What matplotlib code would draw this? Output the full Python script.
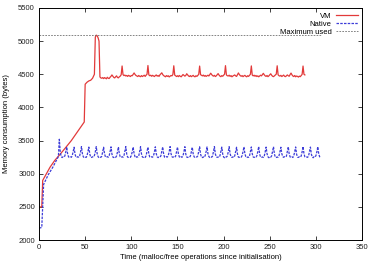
import numpy as np
from matplotlib import pyplot as plt

plt.rcParams['font.family'] = ['Liberation Sans', 'DejaVu Sans']

# VM: Anlauf (wenige Stuetzpunkte) + Verlauf ab x=66
vm_head_x = [0, 3, 4, 8, 12, 17, 22, 28, 35, 42, 49, 50, 52, 54, 56, 58, 60, 61, 62, 63, 64, 65]
vm_head_y = [2500, 2500, 2900, 3000, 3100, 3200, 3280, 3380, 3500, 3640, 3780,
             4350, 4380, 4400, 4410, 4440, 4500, 5060, 5090, 5080, 5050, 5000]
vm_tail_y = [
    4460, 4445, 4440, 4450, 4435, 4450, 4440, 4432, 4455, 4440, 4436, 4455,
    4470, 4490, 4472, 4452, 4445, 4462, 4476, 4452, 4446, 4462, 4472, 4492,
    4625, 4495, 4480, 4488, 4474, 4482, 4468, 4484, 4474, 4466, 4482, 4478, 4498, 4520,
    4498, 4482, 4474, 4466, 4482, 4470, 4464, 4480, 4466, 4476, 4486, 4468, 4486, 4500,
    4632, 4490, 4478, 4486, 4470, 4484, 4474, 4466, 4480, 4490, 4472, 4482, 4468, 4492,
    4506, 4522, 4496, 4480, 4470, 4462, 4480, 4468, 4478, 4460, 4472, 4482, 4476, 4496,
    4628, 4488, 4476, 4466, 4478, 4464, 4482, 4470, 4462, 4480, 4496, 4484, 4472, 4482,
    4508, 4490, 4474, 4466, 4480, 4464, 4474, 4484, 4468, 4462, 4478, 4468, 4484, 4498,
    4624, 4494, 4484, 4476, 4488, 4470, 4482, 4468, 4478, 4486, 4474, 4494, 4516, 4496,
    4480, 4472, 4484, 4466, 4476, 4494, 4510, 4488, 4472, 4464, 4480, 4470, 4486, 4502,
    4630, 4490, 4478, 4474, 4486, 4468, 4480, 4462, 4474, 4482, 4490, 4476, 4468, 4494,
    4520, 4496, 4480, 4470, 4480, 4464, 4476, 4484, 4470, 4462, 4478, 4468, 4484, 4500,
    4626, 4488, 4476, 4486, 4470, 4482, 4466, 4476, 4462, 4474, 4486, 4476, 4494, 4514,
    4492, 4476, 4468, 4482, 4464, 4476, 4492, 4508, 4486, 4470, 4464, 4476, 4486, 4502,
    4628, 4492, 4478, 4472, 4484, 4466, 4478, 4488, 4470, 4464, 4478, 4490, 4478, 4470,
    4496, 4518, 4492, 4474, 4466, 4482, 4462, 4474, 4468, 4458, 4472, 4464, 4480, 4498,
    4624, 4500, 4490,
]

# Native
nat_head_x = [0, 3, 5, 10, 15, 21]
nat_head_y = [2180, 2190, 2840, 2985, 3100, 3260]
nat_tail_y = [
    3520, 3330, 3260, 3245, 3255, 3250, 3270, 3330,
    3405, 3300, 3255, 3245, 3255, 3248, 3272, 3335,
    3400, 3296, 3252, 3248, 3258, 3250, 3268, 3330,
    3410, 3302, 3256, 3244, 3254, 3246, 3270, 3338,
    3402, 3298, 3250, 3246, 3256, 3252, 3274, 3332,
    3408, 3304, 3258, 3242, 3252, 3248, 3266, 3336,
    3400, 3300, 3254, 3248, 3258, 3250, 3272, 3334,
    3406, 3296, 3252, 3244, 3254, 3246, 3268, 3330,
    3404, 3302, 3256, 3246, 3256, 3250, 3270, 3338,
    3410, 3298, 3250, 3248, 3252, 3248, 3274, 3332,
    3402, 3304, 3258, 3242, 3258, 3252, 3266, 3336,
    3408, 3300, 3254, 3246, 3254, 3246, 3272, 3334,
    3400, 3296, 3252, 3248, 3256, 3250, 3268, 3330,
    3406, 3302, 3256, 3244, 3252, 3248, 3270, 3338,
    3404, 3298, 3250, 3246, 3258, 3252, 3274, 3332,
    3410, 3304, 3258, 3248, 3254, 3246, 3266, 3336,
    3402, 3300, 3254, 3242, 3256, 3250, 3272, 3334,
    3408, 3296, 3252, 3246, 3252, 3248, 3268, 3330,
    3400, 3302, 3256, 3248, 3258, 3252, 3270, 3338,
    3406, 3298, 3250, 3244, 3254, 3246, 3274, 3332,
    3404, 3304, 3258, 3246, 3256, 3250, 3266, 3336,
    3410, 3300, 3254, 3248, 3252, 3248, 3272, 3334,
    3402, 3296, 3252, 3242, 3258, 3252, 3268, 3330,
    3408, 3302, 3256, 3246, 3254, 3246, 3270, 3338,
    3400, 3298, 3250, 3248, 3256, 3250, 3274, 3332,
    3406, 3304, 3258, 3244, 3252, 3248, 3266, 3336,
    3404, 3300, 3254, 3246, 3258, 3252, 3272, 3334,
    3410, 3296, 3252, 3248, 3254, 3246, 3268, 3330,
    3402, 3302, 3256, 3242, 3256, 3250, 3270, 3338,
    3408, 3298, 3250, 3246, 3252, 3248, 3274, 3332,
    3400, 3304, 3258, 3248, 3258, 3252, 3266, 3336,
    3406, 3300, 3254, 3244, 3254, 3246, 3272, 3334,
    3404, 3296, 3252, 3246, 3256, 3250, 3268, 3330,
    3410, 3302, 3256, 3248, 3252, 3248, 3270, 3338,
    3402, 3298, 3250, 3242, 3258, 3252, 3274, 3332,
    3408, 3300, 3256, 3250,
]

max_used = 5090

vm_x = vm_head_x + list(range(66, 66 + len(vm_tail_y)))
vm_y = vm_head_y + vm_tail_y
nat_x = nat_head_x + list(range(22, 22 + len(nat_tail_y)))
nat_y = nat_head_y + nat_tail_y

fig = plt.figure(figsize=(3.68, 2.65), dpi=100)
ax = fig.add_axes([0.106, 0.094, 0.878, 0.876])

ax.plot(vm_x, vm_y, color='#e23a3a', lw=0.9, label='VM')
ax.plot(nat_x, nat_y, color='#3c3cd8', lw=0.9, dashes=(2, 1), label='Native')
ax.hlines(max_used, 0, nat_x[-1], color='#707070', lw=0.6, linestyles=(0, (2, 1.5)),
          label='Maximum used')

ax.set_xlim(0, 350)
ax.set_ylim(2000, 5500)
ax.set_xticks(np.arange(0, 351, 50))
ax.set_yticks(np.arange(2000, 5501, 500))
ax.tick_params(direction='in', top=True, right=True, length=3, width=0.6,
               labelsize=5.5, pad=3, colors='#222222')
for s in ax.spines.values():
    s.set_linewidth(0.7)

ax.set_xlabel('Time (malloc/free operations since initialisation)', fontsize=5.5, labelpad=2)
ax.set_ylabel('Memory consumption (bytes)', fontsize=5.5, labelpad=6)

ax.legend(loc='upper right', markerfirst=False, frameon=False, fontsize=5.5,
          handlelength=2.8, handletextpad=0.6, labelspacing=0.1, borderaxespad=0.2)

fig.savefig('out.png', dpi=100)
